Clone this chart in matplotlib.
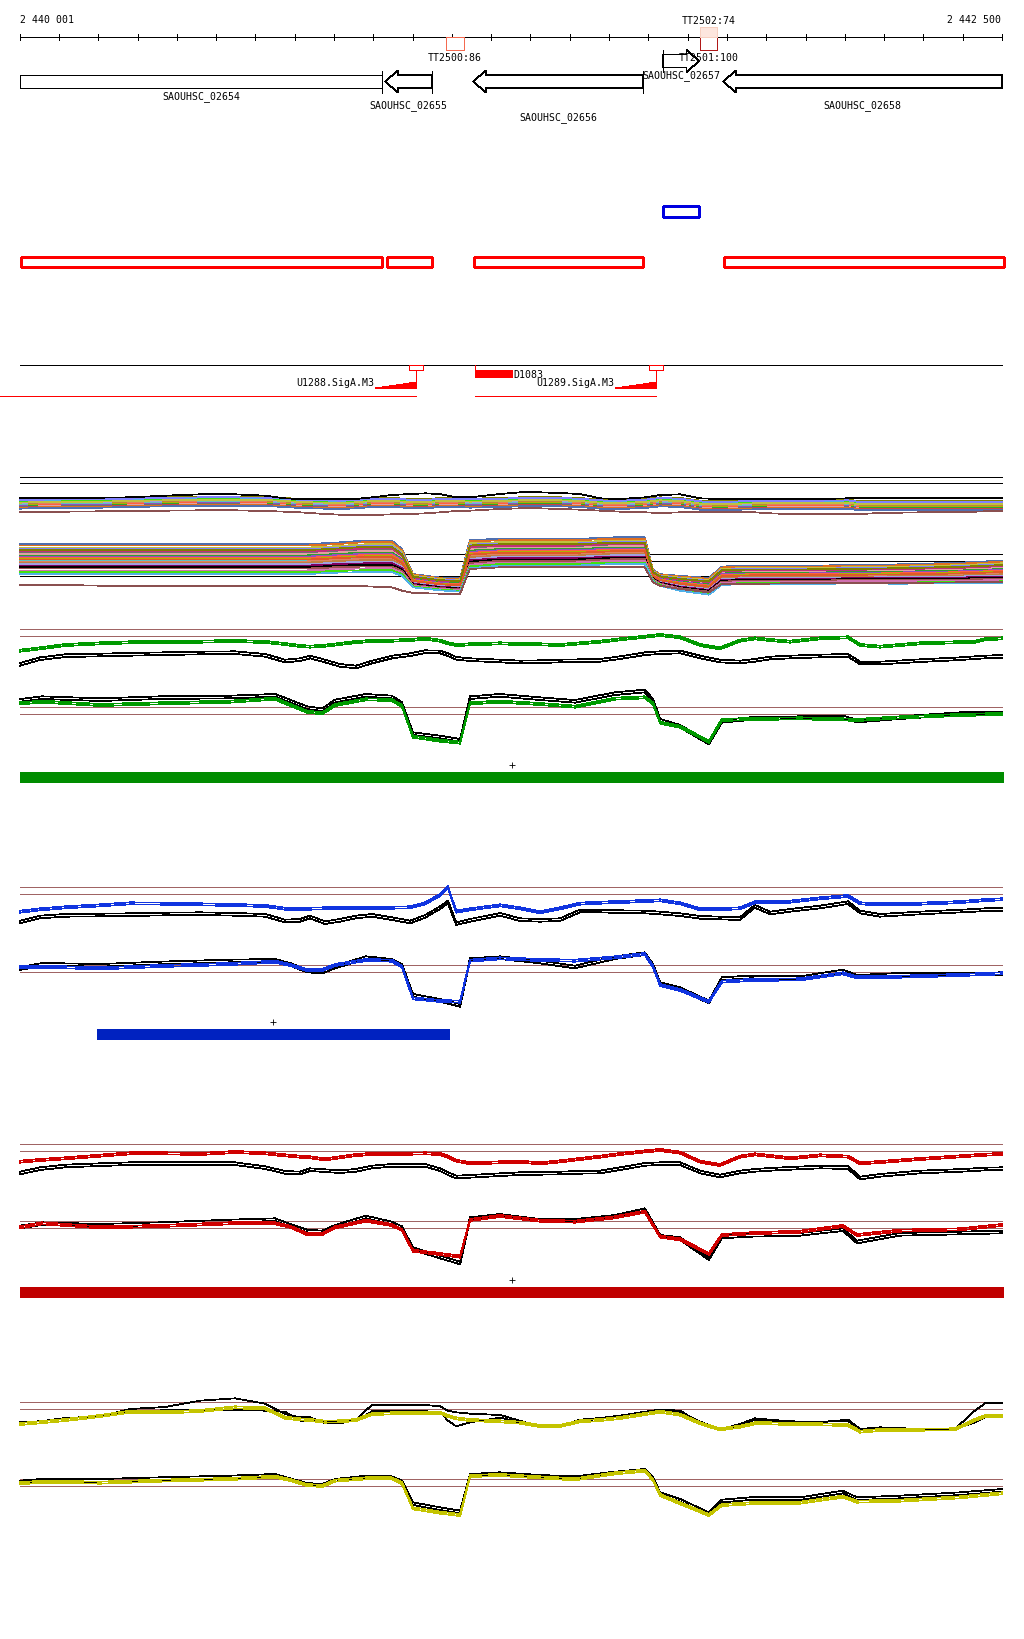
import numpy as np
import matplotlib
matplotlib.use("Agg")
import matplotlib.pyplot as plt
from matplotlib.patches import Rectangle, Polygon

plt.rcParams['font.family'] = ['DejaVu Sans Mono']
plt.rcParams['font.size'] = 7.1
plt.rcParams['lines.antialiased'] = False
plt.rcParams['patch.antialiased'] = False

W, H = 1024, 1640
VIEW = (2439950, 2442556)          # genome window across the full image width
RULER_START, RULER_END = 2440001, 2442500
RULER_LABELS = ['2 440 001', '2 442 500']

# ---------------- annotation ----------------
GENE_NAMES = ['SAOUHSC_02654', 'SAOUHSC_02655', 'SAOUHSC_02656', 'SAOUHSC_02657', 'SAOUHSC_02658']
GENE_START = [2440922, 2441049, 2441586, 2441637, 2442650]   # 5' end
GENE_END = [2439700, 2440930, 2441154, 2441730, 2441790]
GENE_STRAND = ['-', '-', '-', '+', '-']
GENE_ROW = [82.5, 82.5, 82.5, 62, 82.5]
GENE_LABEL_Y = [97, 106, 118, 76, 106]

TERM_NAMES = ['TT2500:86', 'TT2501:100', 'TT2502:74']
TERM_START = [2441085, 2441732, 2441732]
TERM_END = [2441131, 2441775, 2441775]
TERM_STRAND = ['-', '-', '+']
TERM_EDGE = ['#f46a50', '#b01818', '#f6cfc0']
TERM_FACE = ['white', 'white', '#fde6de']

RED_SEGMENTS = [(2440003, 2440922), (2440935, 2441049), (2441156, 2441586), (2441793, 2442505)]
BLUE_SEGMENTS = [(2441637, 2441730)]

PROM_NAMES = ['U1288.SigA.M3', 'U1289.SigA.M3']
PROM_POS = [2441009, 2441620]
TX_SPANS = [(2439950, 2441009), (2441159, 2441620)]
TERM2_NAME = 'D1083'
TERM2_SPAN = (2441159, 2441256)

BAR_GREEN = (2440001, 2442505)
BAR_BLUE = (2440197, 2441095)
BAR_RED = (2440001, 2442505)

# ---------------- expression profiles ----------------
UP_POS = 2440000 + np.array([1, 52, 116, 205, 281, 370, 459, 548, 625, 675, 714, 739, 777, 815, 856, 897,
                             948, 994, 1032, 1070, 1090, 1111, 1146, 1223, 1273, 1324, 1375, 1426, 1477,
                             1528, 1592, 1630, 1681, 1732, 1782, 1833, 1871, 1910, 1961, 2037, 2108, 2139,
                             2190, 2291, 2380, 2431, 2457, 2500])
LOW_POS = 2440000 + np.array([1, 57, 205, 357, 535, 650, 688, 731, 770, 803, 881, 947, 973, 1001, 1070,
                              1121, 1146, 1222, 1324, 1413, 1515, 1591, 1612, 1630, 1681, 1754, 1787, 1859,
                              1986, 2095, 2131, 2240, 2393, 2500])

green_up = [358, 365, 375, 380, 383, 384, 385, 387, 384, 378, 372, 370, 373, 378, 384, 387, 388, 390, 394, 388,
            380, 375, 377, 380, 378, 377, 375, 380, 385, 392, 400, 405, 398, 375, 365, 388, 395, 390, 385, 395,
            398, 375, 370, 380, 383, 385, 392, 395]
green_up_k = [318, 335, 344, 346, 348, 350, 352, 353, 345, 328, 332, 340, 328, 315, 310, 325, 340, 347, 356, 355,
              347, 336, 332, 328, 325, 326, 328, 329, 330, 338, 350, 353, 355, 340, 328, 325, 330, 337, 340, 343,
              345, 322, 322, 329, 334, 338, 340, 342]
blue_up = [325, 332, 338, 344, 350, 349, 347, 345, 342, 334, 333, 334, 335, 336, 336, 337, 337, 338, 350, 375,
           398, 325, 332, 344, 335, 323, 335, 349, 352, 354, 357, 359, 350, 332, 333, 335, 353, 355, 355, 365,
           372, 350, 347, 349, 353, 357, 360, 362]
blue_up_k = [295, 310, 315, 316, 317, 319, 320, 318, 315, 298, 300, 310, 293, 300, 310, 315, 305, 295, 312, 338,
             355, 290, 300, 318, 302, 300, 302, 328, 328, 326, 325, 322, 317, 309, 307, 305, 342, 322, 330, 340,
             353, 325, 315, 322, 327, 330, 332, 333]
red_up = [355, 360, 365, 373, 380, 380, 378, 384, 380, 374, 370, 368, 362, 368, 375, 378, 379, 379, 380, 378,
          370, 358, 350, 353, 355, 350, 356, 363, 370, 378, 386, 390, 382, 355, 345, 370, 377, 372, 365, 374,
          370, 350, 354, 363, 370, 374, 376, 378]
red_up_k = [322, 335, 343, 347, 350, 350, 350, 350, 338, 324, 322, 332, 329, 326, 330, 340, 345, 345, 345, 332,
            320, 310, 312, 317, 320, 321, 322, 324, 325, 335, 348, 350, 350, 325, 313, 325, 330, 333, 336, 340,
            338, 307, 315, 325, 329, 332, 334, 335]
yellow_up = [318, 323, 330, 342, 355, 353, 357, 368, 365, 337, 332, 330, 325, 326, 330, 348, 350, 350, 351, 352,
             342, 335, 330, 326, 322, 312, 312, 326, 330, 336, 348, 355, 346, 320, 302, 310, 320, 320, 318, 317,
             315, 295, 300, 301, 302, 330, 342, 342]
yellow_up_k = [322, 323, 333, 338, 360, 366, 385, 392, 376, 345, 335, 335, 317, 317, 328, 373, 373, 373, 372, 368,
               355, 350, 346, 342, 325, 307, 307, 328, 333, 340, 352, 358, 355, 318, 298, 315, 332, 328, 323, 322,
               325, 295, 303, 300, 300, 355, 377, 377]
yellow_up_k2 = [320, 323, 333, 338, 355, 356, 356, 357, 355, 352, 325, 325, 325, 325, 325, 353, 353, 353, 353,
                352, 325, 308, 320, 334, 320, 307, 307, 325, 330, 337, 348, 355, 350, 322, 300, 310, 328, 325,
                322, 320, 328, 300, 305, 300, 300, 320, 335, 335]

green_low = [200, 205, 195, 200, 205, 214, 195, 175, 170, 195, 212, 210, 192, 100, 88, 82, 200, 205, 198, 190,
             214, 218, 200, 142, 130, 85, 150, 153, 155, 152, 150, 158, 165, 168]
green_low_k = [210, 218, 212, 218, 220, 225, 208, 188, 182, 208, 225, 220, 200, 110, 100, 90, 218, 225, 215, 207,
               230, 238, 210, 150, 132, 82, 147, 155, 158, 160, 148, 158, 170, 172]
blue_low = [158, 160, 155, 162, 168, 175, 165, 150, 150, 165, 180, 178, 160, 65, 57, 55, 178, 185, 180, 178,
            188, 198, 160, 105, 90, 55, 115, 120, 122, 140, 128, 130, 135, 140]
blue_low_k = [155, 168, 165, 172, 178, 180, 168, 148, 145, 160, 188, 180, 165, 75, 60, 45, 182, 188, 175, 160,
              188, 200, 165, 110, 95, 55, 125, 130, 128, 148, 132, 138, 138, 140]
red_low = [158, 170, 158, 162, 170, 170, 160, 138, 138, 158, 178, 165, 150, 88, 78, 70, 180, 192, 178, 175,
           188, 205, 165, 130, 122, 78, 135, 140, 145, 162, 135, 148, 152, 165]
red_low_k = [160, 170, 165, 170, 178, 182, 165, 148, 145, 162, 190, 172, 158, 95, 70, 52, 185, 195, 180, 180,
             192, 212, 170, 132, 125, 65, 130, 135, 138, 152, 115, 138, 142, 145]
yellow_low = [140, 145, 142, 148, 153, 160, 150, 135, 132, 148, 155, 155, 140, 65, 52, 45, 162, 165, 158, 152,
              170, 178, 150, 105, 80, 45, 75, 80, 82, 100, 85, 88, 98, 110]
yellow_low_k = [145, 150, 150, 155, 160, 165, 152, 138, 135, 150, 160, 158, 145, 80, 65, 55, 165, 170, 162, 158,
                172, 180, 155, 110, 90, 50, 88, 95, 95, 115, 95, 100, 110, 120]

# reference levels (two per block)
green_ref = [419, 398, 185, 164]
blue_ref = [396, 375, 162, 141]
red_ref = [405, 384, 174, 153]
yellow_ref = [381, 360, 150, 129]
REP_SHIFT = [-6, -8]    # second replicate (coloured, black) where not listed

# all-conditions track
multi_up_mid = [345, 347, 348, 348, 350, 352, 354, 354, 353, 350, 347, 346, 345, 344, 346, 350, 350, 347, 346,
                350, 350, 350, 348, 350, 352, 352, 352, 350, 345, 344, 347, 352, 350, 342, 340, 342, 343, 344,
                344, 344, 345, 340, 340, 340, 340, 340, 340, 340]
multi_up_top = [362, 362, 364, 364, 365, 370, 374, 374, 370, 362, 360, 360, 360, 360, 360, 365, 372, 375, 377,
                375, 370, 365, 365, 375, 380, 380, 378, 375, 362, 360, 365, 372, 374, 362, 360, 360, 360, 360,
                360, 360, 362, 362, 362, 362, 362, 362, 362, 362]
multi_up_bot = [320, 320, 322, 323, 325, 325, 326, 326, 324, 322, 320, 318, 315, 313, 312, 312, 314, 315, 317,
                320, 322, 324, 325, 330, 332, 332, 330, 328, 325, 322, 320, 318, 320, 322, 322, 322, 320, 317,
                315, 314, 315, 315, 318, 320, 322, 322, 323, 323]
multi_low_mid = [180, 180, 180, 180, 180, 180, 180, 180, 182, 184, 188, 188, 170, 115, 105, 102, 195, 200, 200,
                 200, 205, 205, 130, 117, 107, 98, 130, 132, 132, 134, 134, 135, 138, 142]
multi_low_spread = [90, 90, 90, 90, 90, 90, 90, 90, 90, 90, 95, 95, 80, 40, 38, 40, 85, 80, 80, 80, 80, 80, 35,
                    35, 45, 50, 55, 55, 55, 55, 55, 58, 62, 66]
multi_low_bot = [103, 103, 100, 98, 98, 98, 98, 98, 98, 98, 98, 95, 85, 78, 76, 76, 150, 155, 155, 155, 155, 155,
                 110, 100, 90, 80, 105, 105, 108, 108, 108, 108, 110, 110]
multi_ref = [425, 407, 194, 173, 129]
MULTI_UP_OFFSET = [13, 10, 8, 6, 5, 3, 2, 1, 0, -1, -2, -3, -4, -5, -6, -7, -8, -9, -10, -11, 11, 4, -12, -14]
MULTI_LOW_FRAC = [0.5, 0.45, 0.38, 0.33, 0.28, 0.22, 0.17, 0.12, 0.08, 0.04, 0.0, -0.04, -0.08, -0.12, -0.17,
                  -0.22, -0.27, -0.32, -0.38, -0.44, -0.5, 0.25, -0.02, 0.3]
MULTI_COLORS = ['#808000', '#e05a28', '#c0307a', '#50b0e8', '#40e010', '#d070b0', '#a05050', '#000000',
                '#800060', '#a0a0e0', '#c08040', '#e08060', '#60c0c0', '#b0b000', '#ff6040', '#9050c0',
                '#30a030', '#e0a0a0', '#707070', '#d04040', '#8080ff', '#c0c040', '#e07020', '#5070b0']

BROWN = '#a06464'
LW = 0.55

fig = plt.figure(figsize=(W / 100, H / 100), dpi=100)
ax = fig.add_axes([0, 0, 1, 1])
ax.set_xlim(*VIEW)
ax.set_ylim(H, 0)
ax.axis('off')

# ruler
ax.plot([RULER_START, RULER_END], [38, 38], color='k', lw=LW)
ticks = [RULER_START] + list(range(2440100, RULER_END + 1, 100))
ax.vlines(ticks, 35, 41, color='k', lw=LW)
ax.text(RULER_START, 20, RULER_LABELS[0], ha='left', va='center')
ax.text(RULER_END - 3, 20, RULER_LABELS[1], ha='right', va='center')

# terminators on the ruler
for name, s, e, st, ec, fc in zip(TERM_NAMES, TERM_START, TERM_END, TERM_STRAND, TERM_EDGE, TERM_FACE):
    if st == '-':
        ax.add_patch(Rectangle((s, 38), e - s, 13, facecolor=fc, edgecolor=ec, lw=LW, zorder=3))
        ax.text((s + e) / 2, 58, name, ha='center', va='center', zorder=4)
    else:
        ax.add_patch(Rectangle((s, 28), e - s, 10, facecolor=fc, edgecolor=ec, lw=LW, zorder=3))
        ax.text((s + e) / 2, 21, name, ha='center', va='center', zorder=4)

# genes
HLEN = 33
for name, gs, ge, st, yc, ly in zip(GENE_NAMES, GENE_START, GENE_END, GENE_STRAND, GENE_ROW, GENE_LABEL_Y):
    lo, hi = min(gs, ge), max(gs, ge)
    clo, chi = max(lo, RULER_START), min(hi, RULER_END)
    b, hd = 6.5, 11
    if st == '-' and lo >= RULER_START:
        pts = [(lo, yc), (lo + HLEN, yc - hd), (lo + HLEN, yc - b), (chi, yc - b), (chi, yc + b),
               (lo + HLEN, yc + b), (lo + HLEN, yc + hd)]
    elif st == '+' and hi <= RULER_END:
        pts = [(hi, yc), (hi - HLEN, yc - hd), (hi - HLEN, yc - b), (clo, yc - b), (clo, yc + b),
               (hi - HLEN, yc + b), (hi - HLEN, yc + hd)]
    else:
        pts = [(clo, yc - b), (chi, yc - b), (chi, yc + b), (clo, yc + b)]
    ax.add_patch(Polygon(pts, closed=True, facecolor='white', edgecolor='k', lw=LW, zorder=2))
    if RULER_START <= gs <= RULER_END:
        ax.plot([gs, gs], [yc - hd, yc + hd], color='k', lw=LW, zorder=3)
    ax.text((clo + chi) / 2, ly, name, ha='center', va='center', zorder=4)

# transcript segments
for s, e in BLUE_SEGMENTS:
    ax.add_patch(Rectangle((s, 207), e - s, 11, facecolor='none', edgecolor='#0000e0', lw=0.8))
for s, e in RED_SEGMENTS:
    ax.add_patch(Rectangle((s, 258), e - s, 10, facecolor='none', edgecolor='#ff0000', lw=0.8))

# promoters / terminator track
ax.plot([RULER_START, RULER_END], [366, 366], color='k', lw=LW)
for s, e in TX_SPANS:
    ax.plot([s, e], [397, 397], color='#ff0000', lw=LW)
for name, pos in zip(PROM_NAMES, PROM_POS):
    n, L, hgt = 6, 104, 6
    xs, ys = [pos - L], [389]
    for i in range(n):
        x0 = pos - L + i * L / n
        h = hgt * (i + 1) / n
        xs += [x0, x0 + L / n]
        ys += [389 - h, 389 - h]
    xs.append(pos)
    ys.append(389)
    ax.add_patch(Polygon(list(zip(xs, ys)), closed=True, facecolor='#ff0000', edgecolor='#ff0000', lw=0.4))
    ax.plot([pos, pos], [366, 389], color='#ff0000', lw=LW)
    ax.add_patch(Rectangle((pos - 18, 366), 36, 5, facecolor='white', edgecolor='#ff0000', lw=LW, zorder=3))
    ax.text(pos - L - 2, 383, name, ha='right', va='center')
ts, te = TERM2_SPAN
ax.add_patch(Rectangle((ts, 371), te - ts, 8, facecolor='#ff0000', edgecolor='none'))
ax.plot([ts, ts], [366, 371], color='#ff0000', lw=LW)
ax.text(te, 375, TERM2_NAME, ha='left', va='center')

# condition bars with centre marks
for (s, e), y, col in [(BAR_GREEN, 773, '#008c00'), (BAR_BLUE, 1030, '#0022c0'), (BAR_RED, 1288, '#c00000')]:
    ax.add_patch(Rectangle((s, y), e - s, 11, facecolor=col, edgecolor='none'))
    ax.plot((s + e) / 2, y - 7.5, marker='+', ms=4, mew=0.6, color='k')


def band(top, height=150):
    a = fig.add_axes([0, 1 - (top + height) / H, 1, height / H])
    a.set_xlim(*VIEW)
    a.set_ylim(0, 450)
    a.axis('off')
    a.patch.set_alpha(0)
    return a


# all-conditions track
am = band(470)
am.hlines(multi_ref, RULER_START, RULER_END, color='k', lw=LW)
mid_up = np.array(multi_up_mid)
for off, col in zip(MULTI_UP_OFFSET, MULTI_COLORS):
    am.plot(UP_POS, mid_up + off, color=col, lw=LW)
am.plot(UP_POS, multi_up_top, color='k', lw=LW)
am.plot(UP_POS, multi_up_bot, color='#8a5050', lw=LW)
mid_low = np.array(multi_low_mid)
spr = np.array(multi_low_spread)
for fr, col in zip(MULTI_LOW_FRAC, MULTI_COLORS[::-1]):
    am.plot(LOW_POS, mid_low + fr * spr, color=col, lw=LW)
am.plot(LOW_POS, multi_low_bot, color='#8a5050', lw=LW)

# paired condition tracks
tracks = [
    (620, '#009a00', green_up, green_up_k, None, green_low, green_low_k, green_ref),
    (870, '#1034e0', blue_up, blue_up_k, None, blue_low, blue_low_k, blue_ref),
    (1130, '#d00000', red_up, red_up_k, None, red_low, red_low_k, red_ref),
    (1380, '#c4c400', yellow_up, yellow_up_k, yellow_up_k2, yellow_low, yellow_low_k, yellow_ref),
]
for top, col, up, upk, upk2, low, lowk, ref in tracks:
    a = band(top)
    a.hlines(ref, RULER_START, RULER_END, color=BROWN, lw=LW)
    for pos, c_vals, k_vals, k2 in [(UP_POS, up, upk, upk2), (LOW_POS, low, lowk, None)]:
        c_vals = np.array(c_vals)
        k_vals = np.array(k_vals)
        k2 = k_vals + REP_SHIFT[1] if k2 is None else np.array(k2)
        a.plot(pos, k_vals, color='k', lw=LW)
        a.plot(pos, k2, color='k', lw=LW)
        a.plot(pos, c_vals, color=col, lw=LW)
        a.plot(pos, c_vals + REP_SHIFT[0], color=col, lw=LW)

fig.savefig('out.png', dpi=100, facecolor='white')
